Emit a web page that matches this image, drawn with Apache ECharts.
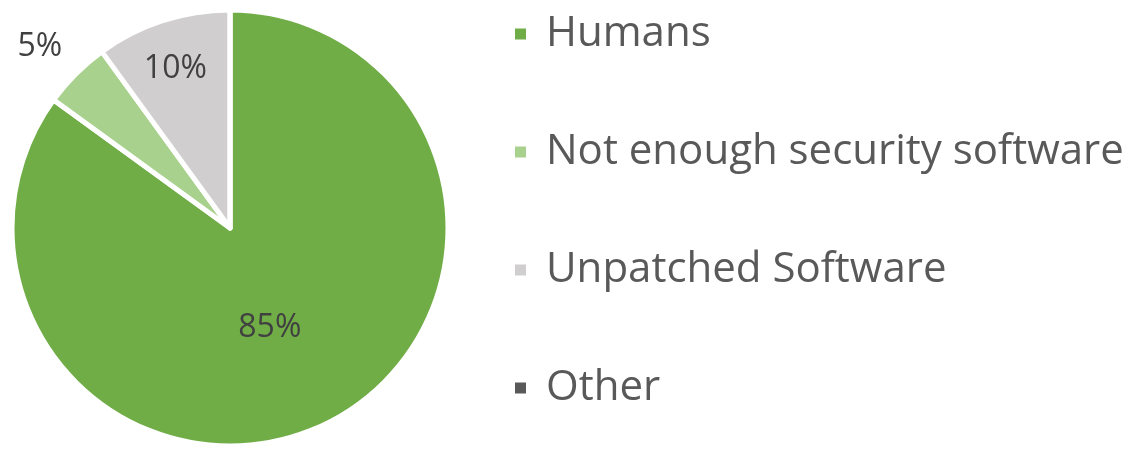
<!DOCTYPE html>
<html>
<head>
<meta charset="utf-8">
<script src="https://cdn.jsdelivr.net/npm/echarts@6/dist/echarts.min.js"></script>
<style>html,body{margin:0;padding:0;background:#fff}#c{width:1144px;height:450px}</style>
</head>
<body>
<div id="c"></div>
<script>
const categories = ["Humans", "Not enough security software", "Unpatched Software", "Other"];
const values = [85, 5, 10, 0];
const colors = ["#70AD47", "#A9D18E", "#D0CECE", "#595959"];
// label nudges (dx, dy) per slice, like Excel's best-fit placement
const labelShift = [[-11, 0], [-111, -102], [-20, -53], [0, 0]];

const chart = echarts.init(document.getElementById('c'), null, {renderer: 'canvas'});
chart.setOption({
  animation: false,
  color: colors,
  legend: {
    orient: 'vertical',
    left: 508,
    top: 8,
    itemWidth: 13,
    itemHeight: 13,
    itemGap: 76,
    icon: 'rect',
    textStyle: {fontFamily: 'Open Sans', fontSize: 42, lineHeight: 42, color: '#595959', padding: [0, 0, 0, 14]},
    data: categories
  },
  series: [{
    type: 'pie',
    center: [230, 228],
    radius: [0, 218],
    startAngle: 90,
    clockwise: true,
    avoidLabelOverlap: false,
    showEmptyCircle: false,
    itemStyle: {borderColor: '#fff', borderWidth: 5},
    label: {
      show: true,
      position: 'inside',
      formatter: p => p.value > 0 ? p.value + '%' : '',
      fontFamily: 'Open Sans',
      fontSize: 32,
      color: '#404040'
    },
    labelLine: {show: false},
    labelLayout: p => ({dx: labelShift[p.dataIndex][0], dy: labelShift[p.dataIndex][1]}),
    emphasis: {disabled: true},
    data: categories.map((n, i) => ({name: n, value: values[i]}))
  }]
});
</script>
</body>
</html>
